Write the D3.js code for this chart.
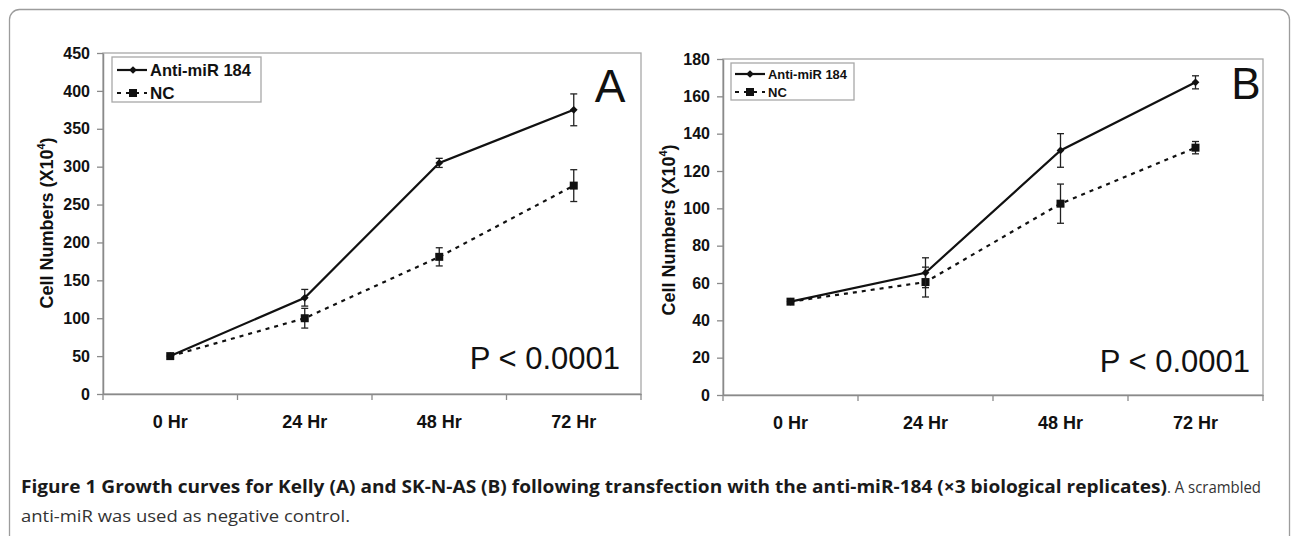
<!DOCTYPE html>
<html>
<head>
<meta charset="utf-8">
<script src="https://cdn.jsdelivr.net/npm/d3@7"></script>
<style>
  html, body { margin: 0; padding: 0; background: #fff; }
  svg { display: block; font-family: "Liberation Sans", Arial, sans-serif; }
</style>
</head>
<body>
<svg id="chart" width="1292" height="536"></svg>
<script>
// ---- data ----
const hours = ["0 Hr", "24 Hr", "48 Hr", "72 Hr"];
const seriesNames = ["Anti-miR 184", "NC"];

// panel A: Kelly
const kellyAnti = [50, 127, 305, 375];
const kellyAntiErr = [0, 11, 6, 21];
const kellyNC = [50, 100, 181, 275];
const kellyNCErr = [0, 13, 12, 21];
const kellyTicks = [0, 50, 100, 150, 200, 250, 300, 350, 400, 450];

// panel B: SK-N-AS
const sknasAnti = [50, 65.5, 131, 167.5];
const sknasAntiErr = [0, 8, 9, 3.5];
const sknasNC = [50, 60.5, 102.5, 132.5];
const sknasNCErr = [0, 8, 10.5, 3.3];
const sknasTicks = [0, 20, 40, 60, 80, 100, 120, 140, 160, 180];

const pValue = "P < 0.0001";

// ---- layout ----
const panels = [
  {
    letter: "A", anti: kellyAnti, antiErr: kellyAntiErr, nc: kellyNC, ncErr: kellyNCErr,
    ticks: kellyTicks,
    left: 103, right: 641, top: 53, bottom: 394,
    titleX: 53, titleY: 223,
    letterX: 610, letterY: 102, letterSize: 46,
    pX: 620, pY: 369,
    legend: { x: 112, y: 57, w: 149, h: 45, row1: 70, row2: 93, lx0: 117, lx1: 147, mx: 133, tx: 150, fs: 17, tl: 101 }
  },
  {
    letter: "B", anti: sknasAnti, antiErr: sknasAntiErr, nc: sknasNC, ncErr: sknasNCErr,
    ticks: sknasTicks,
    left: 723, right: 1263, top: 59, bottom: 395,
    titleX: 675, titleY: 230,
    letterX: 1246, letterY: 99, letterSize: 44,
    pX: 1250, pY: 372,
    legend: { x: 731, y: 63, w: 123, h: 37, row1: 74, row2: 92, lx0: 735, lx1: 765, mx: 750, tx: 768, fs: 13, tl: 79 }
  }
];

const svg = d3.select("#chart");

// outer figure frame
svg.append("rect")
  .attr("x", 9.5).attr("y", 9.5)
  .attr("width", 1280).attr("height", 700)
  .attr("rx", 10)
  .attr("fill", "none")
  .attr("stroke", "#9c9c9c")
  .attr("stroke-width", 1.3);

const diamond = d3.symbol().type(d3.symbolSquare).size(30);
const square = d3.symbol().type(d3.symbolSquare).size(64);

panels.forEach((p) => {
  const g = svg.append("g");

  const x = d3.scaleBand().domain(hours).range([p.left, p.right]).padding(0);
  const y = d3.scaleLinear().domain([0, p.ticks[p.ticks.length - 1]]).range([p.bottom, p.top]);
  const cx = (h) => x(h) + x.bandwidth() / 2;

  // plot area border
  g.append("rect")
    .attr("x", p.left).attr("y", p.top)
    .attr("width", p.right - p.left).attr("height", p.bottom - p.top)
    .attr("fill", "none")
    .attr("stroke", "#a8a8a8")
    .attr("stroke-width", 1.3);

  // y axis
  const yAxis = g.append("g")
    .attr("transform", `translate(${p.left},0)`)
    .call(d3.axisLeft(y).tickValues(p.ticks).tickSize(6).tickPadding(7).tickSizeOuter(0));
  yAxis.attr("font-family", null).attr("font-size", null);
  yAxis.select(".domain").attr("stroke", "#8a8a8a").attr("stroke-width", 1.5);
  yAxis.selectAll(".tick line").attr("stroke", "#8a8a8a").attr("stroke-width", 1.3);
  yAxis.selectAll(".tick text")
    .attr("font-size", 16).attr("font-weight", "bold").attr("fill", "#111");

  // x axis labels
  const xAxis = g.append("g")
    .attr("transform", `translate(0,${p.bottom})`)
    .call(d3.axisBottom(x).tickSize(0).tickPadding(21).tickSizeOuter(0));
  xAxis.attr("font-family", null).attr("font-size", null);
  xAxis.select(".domain").attr("stroke", "#8a8a8a").attr("stroke-width", 1.5);
  xAxis.selectAll(".tick text")
    .attr("font-size", 18).attr("font-weight", "bold").attr("fill", "#111");

  // category boundary ticks
  const edges = hours.map((h) => x(h)).concat([p.right]);
  xAxis.selectAll("line.edge")
    .data(edges)
    .join("line")
    .attr("class", "edge")
    .attr("x1", (d) => d).attr("x2", (d) => d)
    .attr("y1", 0).attr("y2", 6)
    .attr("stroke", "#8a8a8a")
    .attr("stroke-width", 1.3);

  // y axis title
  const title = g.append("text")
    .attr("transform", `translate(${p.titleX},${p.titleY}) rotate(-90)`)
    .attr("text-anchor", "middle")
    .attr("font-size", 18)
    .attr("font-weight", "bold")
    .attr("fill", "#111");
  title.append("tspan").text("Cell Numbers (X10");
  title.append("tspan").attr("font-size", 11).attr("dy", -8).text("4");
  title.append("tspan").attr("dy", 8).text(")");

  // series
  const series = [
    { name: seriesNames[0], values: p.anti, err: p.antiErr, dash: null, sym: diamond, rot: 45 },
    { name: seriesNames[1], values: p.nc, err: p.ncErr, dash: "4,5", sym: square, rot: 0 }
  ];
  const line = d3.line().x((d, i) => cx(hours[i])).y((d) => y(d));

  // draw NC first so the solid line sits on top
  series.slice().reverse().forEach((s) => {
    g.append("path")
      .datum(s.values)
      .attr("d", line)
      .attr("fill", "none")
      .attr("stroke", "#111")
      .attr("stroke-width", 2.2)
      .attr("stroke-dasharray", s.dash);

    const pts = s.values.map((v, i) => ({ h: hours[i], v: v, e: s.err[i] }));

    const eb = g.append("g").selectAll("g")
      .data(pts.filter((d) => d.e > 0))
      .join("g")
      .attr("stroke", "#222")
      .attr("stroke-width", 1.3);
    eb.append("line")
      .attr("x1", (d) => cx(d.h)).attr("x2", (d) => cx(d.h))
      .attr("y1", (d) => y(d.v - d.e)).attr("y2", (d) => y(d.v + d.e));
    eb.append("line")
      .attr("x1", (d) => cx(d.h) - 3.5).attr("x2", (d) => cx(d.h) + 3.5)
      .attr("y1", (d) => y(d.v + d.e)).attr("y2", (d) => y(d.v + d.e));
    eb.append("line")
      .attr("x1", (d) => cx(d.h) - 3.5).attr("x2", (d) => cx(d.h) + 3.5)
      .attr("y1", (d) => y(d.v - d.e)).attr("y2", (d) => y(d.v - d.e));

    g.append("g").selectAll("path")
      .data(pts)
      .join("path")
      .attr("d", s.sym)
      .attr("transform", (d) => `translate(${cx(d.h)},${y(d.v)}) rotate(${s.rot})`)
      .attr("fill", "#111");
  });

  // legend
  const L = p.legend;
  const lg = g.append("g");
  lg.append("rect")
    .attr("x", L.x).attr("y", L.y).attr("width", L.w).attr("height", L.h)
    .attr("fill", "#fff")
    .attr("stroke", "#a8a8a8")
    .attr("stroke-width", 1.3);
  series.forEach((s, i) => {
    const ry = i === 0 ? L.row1 : L.row2;
    lg.append("line")
      .attr("x1", L.lx0).attr("x2", L.lx1)
      .attr("y1", ry).attr("y2", ry)
      .attr("stroke", "#111")
      .attr("stroke-width", 2.2)
      .attr("stroke-dasharray", s.dash);
    lg.append("path")
      .attr("d", s.sym)
      .attr("transform", `translate(${L.mx},${ry}) rotate(${s.rot})`)
      .attr("fill", "#111");
    const t = lg.append("text")
      .attr("x", L.tx).attr("y", ry)
      .attr("dy", "0.36em")
      .attr("font-size", L.fs)
      .attr("font-weight", "bold")
      .attr("fill", "#111")
      .text(s.name);
    if (i === 0) t.attr("textLength", L.tl).attr("lengthAdjust", "spacingAndGlyphs");
  });

  // panel letter
  g.append("text")
    .attr("x", p.letterX).attr("y", p.letterY)
    .attr("text-anchor", "middle")
    .attr("font-size", p.letterSize)
    .attr("fill", "#111")
    .text(p.letter);

  // p value
  g.append("text")
    .attr("x", p.pX).attr("y", p.pY)
    .attr("text-anchor", "end")
    .attr("font-size", 31)
    .attr("fill", "#111")
    .text(pValue);
});

// caption
const capFont = "'Liberation Sans Narrow', 'Open Sans', sans-serif";
svg.append("text")
  .attr("x", 21).attr("y", 493)
  .attr("font-family", capFont)
  .attr("font-size", 17)
  .attr("font-weight", "bold")
  .attr("fill", "#1a1a1a")
  .attr("textLength", 1146)
  .attr("lengthAdjust", "spacingAndGlyphs")
  .text("Figure 1 Growth curves for Kelly (A) and SK-N-AS (B) following transfection with the anti-miR-184 (\u00d73 biological replicates)");
svg.append("text")
  .attr("x", 1167).attr("y", 493)
  .attr("font-family", capFont)
  .attr("font-size", 17)
  .attr("fill", "#333")
  .attr("textLength", 94)
  .attr("lengthAdjust", "spacingAndGlyphs")
  .text(". A scrambled");
svg.append("text")
  .attr("x", 21).attr("y", 522)
  .attr("font-family", capFont)
  .attr("font-size", 17)
  .attr("fill", "#333")
  .attr("textLength", 329)
  .attr("lengthAdjust", "spacingAndGlyphs")
  .text("anti-miR was used as negative control.");
</script>
</body>
</html>
